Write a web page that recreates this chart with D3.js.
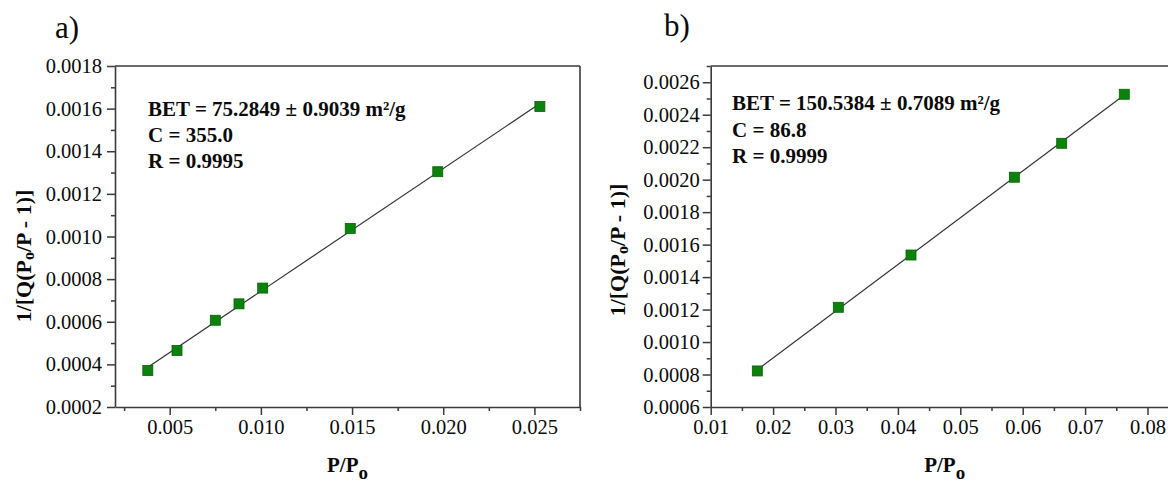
<!DOCTYPE html>
<html>
<head>
<meta charset="utf-8">
<script src="https://cdn.jsdelivr.net/npm/d3@7"></script>
<style>
  html, body { margin: 0; padding: 0; background: #fff; }
  svg { display: block; font-family: "Liberation Serif", "Times New Roman", serif; }
  svg text { font-family: "Liberation Serif", "Times New Roman", serif !important; fill: #0a0a0a; }
</style>
</head>
<body>
<svg id="chart" width="1168" height="482"></svg>
<script>
// ---------- Data ----------
const aX = [0.0038, 0.0054, 0.0075, 0.0088, 0.0101, 0.0149, 0.0197, 0.0253];
const aY = [0.000371, 0.000465, 0.000607, 0.000684, 0.000758, 0.001038, 0.001304, 0.001610];
const bX = [0.01747, 0.03045, 0.0421, 0.05866, 0.06625, 0.07628];
const bY = [0.000822, 0.001214, 0.001536, 0.002015, 0.002224, 0.002526];

const aXTicks = [0.005, 0.010, 0.015, 0.020, 0.025];
const aXMinor = [0.0025, 0.0075, 0.0125, 0.0175, 0.0225, 0.0275];
const aYTicks = [0.0002, 0.0004, 0.0006, 0.0008, 0.0010, 0.0012, 0.0014, 0.0016, 0.0018];
const aYMinor = [0.0003, 0.0005, 0.0007, 0.0009, 0.0011, 0.0013, 0.0015, 0.0017];

const bXTicks = [0.01, 0.02, 0.03, 0.04, 0.05, 0.06, 0.07, 0.08];
const bXMinor = [0.015, 0.025, 0.035, 0.045, 0.055, 0.065, 0.075, 0.085];
const bYTicks = [0.0006, 0.0008, 0.0010, 0.0012, 0.0014, 0.0016, 0.0018, 0.0020, 0.0022, 0.0024, 0.0026];
const bYMinor = [0.0007, 0.0009, 0.0011, 0.0013, 0.0015, 0.0017, 0.0019, 0.0021, 0.0023, 0.0025, 0.0027];

const aNotes = ["BET = 75.2849 ± 0.9039 m²/g", "C = 355.0", "R = 0.9995"];
const bNotes = ["BET = 150.5384 ± 0.7089 m²/g", "C = 86.8", "R = 0.9999"];
const panelLabels = ["a)", "b)"];

// ---------- Drawing ----------
const svg = d3.select("#chart");
const AXIS = "#3a3a3a";
const SERIF = '"Liberation Serif", "Times New Roman", serif';

function panel(cfg) {
  const g = svg.append("g");
  const x = d3.scaleLinear().domain(cfg.xDomain).range([cfg.left, cfg.right]);
  const y = d3.scaleLinear().domain(cfg.yDomain).range([cfg.bottom, cfg.top]);

  // frame top & right
  g.append("line").attr("x1", cfg.left).attr("x2", cfg.right).attr("y1", cfg.top).attr("y2", cfg.top)
    .attr("stroke", AXIS).attr("stroke-width", 1.6);
  g.append("line").attr("x1", cfg.right).attr("x2", cfg.right).attr("y1", cfg.top).attr("y2", cfg.bottom)
    .attr("stroke", AXIS).attr("stroke-width", 1.6);

  // bottom axis
  const xAxis = d3.axisBottom(x).tickValues(cfg.xTicks).tickFormat(d3.format(cfg.xFmt))
    .tickSizeInner(8).tickSizeOuter(0).tickPadding(4);
  const gx = g.append("g").attr("transform", `translate(0,${cfg.bottom})`).call(xAxis)
    .attr("font-family", SERIF).attr("font-size", 20);
  gx.select(".domain").attr("stroke", AXIS).attr("stroke-width", 1.6);
  gx.selectAll(".tick line").attr("stroke", AXIS).attr("stroke-width", 1.5);
  gx.selectAll(".tick text").style("font-size", "20.5px");
  const xMin = d3.axisBottom(x).tickValues(cfg.xMinor).tickFormat("").tickSizeInner(4).tickSizeOuter(0);
  const gxm = g.append("g").attr("transform", `translate(0,${cfg.bottom})`).call(xMin);
  gxm.select(".domain").remove();
  gxm.selectAll(".tick line").attr("stroke", AXIS).attr("stroke-width", 1.5);

  // left axis
  const yAxis = d3.axisLeft(y).tickValues(cfg.yTicks).tickFormat(d3.format(".4f"))
    .tickSizeInner(8).tickSizeOuter(0).tickPadding(cfg.yPad);
  const gy = g.append("g").attr("transform", `translate(${cfg.left},0)`).call(yAxis)
    .attr("font-family", SERIF).attr("font-size", 20);
  gy.select(".domain").attr("stroke", AXIS).attr("stroke-width", 1.6);
  gy.selectAll(".tick line").attr("stroke", AXIS).attr("stroke-width", 1.5);
  gy.selectAll(".tick text").style("font-size", "20.5px");
  const yMin = d3.axisLeft(y).tickValues(cfg.yMinor).tickFormat("").tickSizeInner(4).tickSizeOuter(0);
  const gym = g.append("g").attr("transform", `translate(${cfg.left},0)`).call(yMin);
  gym.select(".domain").remove();
  gym.selectAll(".tick line").attr("stroke", AXIS).attr("stroke-width", 1.5);

  // linear fit
  const pts = cfg.xs.map((v, i) => [v, cfg.ys[i]]);
  const mx = d3.mean(cfg.xs), my = d3.mean(cfg.ys);
  const slope = d3.sum(pts, p => (p[0] - mx) * (p[1] - my)) / d3.sum(pts, p => (p[0] - mx) ** 2);
  const icpt = my - slope * mx;
  const [x0, x1] = d3.extent(cfg.xs);
  g.append("line")
    .attr("x1", x(x0)).attr("y1", y(icpt + slope * x0))
    .attr("x2", x(x1)).attr("y2", y(icpt + slope * x1))
    .attr("stroke", "#333").attr("stroke-width", 1.2);

  // markers
  const s = 10;
  g.selectAll("rect.pt").data(pts).join("rect").attr("class", "pt")
    .attr("x", d => x(d[0]) - s / 2).attr("y", d => y(d[1]) - s / 2)
    .attr("width", s).attr("height", s)
    .attr("fill", "#0b820b").attr("stroke", "#066306").attr("stroke-width", 0.8);

  // annotations
  cfg.notes.forEach((t, i) => {
    g.append("text").attr("x", cfg.noteX).attr("y", cfg.noteY[i])
      .style("font-size", "21px").attr("font-weight", "bold").text(t);
  });

  // panel label
  g.append("text").attr("x", cfg.labX).attr("y", cfg.labY).style("font-size", "31px").text(cfg.label);

  // x title
  const xt = g.append("text").attr("x", (cfg.left + cfg.right) / 2).attr("y", 472)
    .attr("text-anchor", "middle").style("font-size", "21px").attr("font-weight", "bold");
  xt.append("tspan").text("P/P");
  xt.append("tspan").attr("dy", 7).style("font-size", "19px").text("o");

  // y title
  const yt = g.append("text").attr("transform", `translate(${cfg.yTitleX},${cfg.yTitleY}) rotate(-90)`)
    .attr("text-anchor", "middle").style("font-size", "22px").attr("font-weight", "bold");
  yt.append("tspan").text("1/[Q(P");
  yt.append("tspan").style("font-size", "16px").attr("dy", 3).text("o");
  yt.append("tspan").attr("dy", -3).text("/P - 1)]");
}

panel({
  left: 115, right: 580, top: 66, bottom: 407,
  xDomain: [0.002, 0.0275], yDomain: [0.0002, 0.0018],
  xTicks: aXTicks, xMinor: aXMinor, yTicks: aYTicks, yMinor: aYMinor, xFmt: ".3f",
  yPad: 5, xs: aX, ys: aY, notes: aNotes, noteX: 148, noteY: [116, 142, 168],
  label: panelLabels[0], labX: 55, labY: 38, yTitleX: 31, yTitleY: 256
});

panel({
  left: 710.7, right: 1178.7, top: 66, bottom: 407,
  xDomain: [0.01, 0.085], yDomain: [0.0006, 0.0027],
  xTicks: bXTicks, xMinor: bXMinor, yTicks: bYTicks, yMinor: bYMinor, xFmt: ".2f",
  yPad: 3, xs: bX, ys: bY, notes: bNotes, noteX: 732, noteY: [110, 137, 163],
  label: panelLabels[1], labX: 664, labY: 36, yTitleX: 625, yTitleY: 250
});
</script>
</body>
</html>
